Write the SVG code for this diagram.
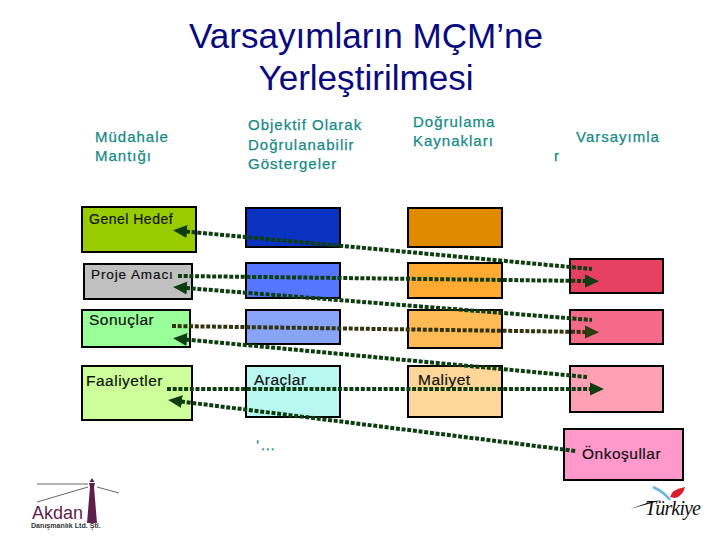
<svg xmlns="http://www.w3.org/2000/svg" width="720" height="540" viewBox="0 0 720 540">
<style>
text{font-family:"Liberation Sans",Arial,sans-serif;fill:#000}
.h{font-size:35.100px;text-anchor:middle;fill:#0a0a80}
.c{font-size:15px;letter-spacing:1px;fill:#158a86;stroke:#158a86;stroke-width:.25px}
.l{font-size:15.500px;letter-spacing:.5px;fill:#111;stroke:#111;stroke-width:.2px}
.b rect{stroke:#000;stroke-width:2}
.d{fill:none;stroke:#0f3d12;stroke-width:4;stroke-dasharray:4 1.700}
</style>
<defs>
<marker id="a" markerUnits="userSpaceOnUse" markerWidth="15" markerHeight="15" refX="1" refY="7.500" orient="auto-start-reverse"><path d="M0 1L14 7.500L0 14Z" fill="#0f3d12"/></marker>
<marker id="a2" markerUnits="userSpaceOnUse" markerWidth="15" markerHeight="15" refX="1" refY="7.500" orient="auto-start-reverse"><path d="M0 1L14 7.500L0 14Z" fill="#2e3a10"/></marker>
</defs>
<rect width="720" height="540" fill="#fff"/>
<g id="title"><text class="h" x="366" y="48">Varsayımların MÇM’ne</text><text class="h" x="366" y="90">Yerleştirilmesi</text></g>
<g id="headers">
<text class="c" x="95" y="142">Müdahale</text><text class="c" x="95" y="161">Mantığı</text>
<text class="c" x="248" y="130">Objektif Olarak</text><text class="c" x="248" y="150">Doğrulanabilir</text><text class="c" x="248" y="169">Göstergeler</text>
<text class="c" x="413" y="127">Doğrulama</text><text class="c" x="413" y="146">Kaynakları</text>
<text class="c" x="576" y="142">Varsayımla</text><text class="c" x="554" y="161">r</text>
</g>
<g id="n-genel" class="b"><rect x="82" y="207" width="114" height="45" fill="#99cc00"/><text class="l" x="89" y="224" style="font-size:14px">Genel Hedef</text></g>
<g id="n-proje" class="b"><rect x="84" y="264" width="108" height="35" fill="#c0c0c0"/><text class="l" x="91" y="279" style="font-size:13.500px;letter-spacing:.9px">Proje Amacı</text></g>
<g id="n-sonuc" class="b"><rect x="82" y="310" width="108" height="37" fill="#99ff99"/><text class="l" x="89" y="325">Sonuçlar</text></g>
<g id="n-faal" class="b"><rect x="82" y="366" width="110" height="54" fill="#ccff99"/><text class="l" x="86" y="386">Faaliyetler</text></g>
<g id="n-g1" class="b"><rect x="246" y="208" width="94" height="39" fill="#0a33c2"/></g>
<g id="n-g2" class="b"><rect x="246" y="263" width="94" height="35" fill="#5577ff"/></g>
<g id="n-g3" class="b"><rect x="246" y="310" width="94" height="34" fill="#88a4f8"/></g>
<g id="n-arac" class="b"><rect x="246" y="366" width="94" height="51" fill="#b8f8f0"/><text class="l" x="254" y="385">Araçlar</text></g>
<g id="n-k1" class="b"><rect x="408" y="208" width="94" height="39" fill="#e08a00"/></g>
<g id="n-k2" class="b"><rect x="408" y="263" width="94" height="35" fill="#ffaa33"/></g>
<g id="n-k3" class="b"><rect x="408" y="310" width="94" height="38" fill="#ffbb55"/></g>
<g id="n-mal" class="b"><rect x="408" y="366" width="94" height="51" fill="#ffd699"/><text class="l" x="418" y="385">Maliyet</text></g>
<g id="n-v1" class="b"><rect x="570" y="259" width="93" height="34" fill="#e64060"/></g>
<g id="n-v2" class="b"><rect x="570" y="310" width="93" height="34" fill="#f56a88"/></g>
<g id="n-v3" class="b"><rect x="570" y="366" width="93" height="46" fill="#ffa0b4"/></g>
<g id="n-on" class="b"><rect x="564" y="429" width="119" height="51" fill="#ff99cc"/><text class="l" x="582" y="459">Önkoşullar</text></g>
<text class="c" x="256" y="450">‘…</text>
<g id="connectors">
<path class="d" d="M186 231.500L592 269" marker-start="url(#a)"/>
<path class="d" d="M178 276L586 281" marker-end="url(#a)"/>
<path class="d" d="M186 288L592 320" marker-start="url(#a)"/>
<path class="d" d="M172 326L586 332" style="stroke:#33330f" marker-end="url(#a2)"/>
<path class="d" d="M186 339.500L587 377" marker-start="url(#a)"/>
<path class="d" d="M167 389L591 389" marker-end="url(#a)"/>
<path class="d" d="M181 401.500L576 451" marker-start="url(#a)"/>
</g>
<g id="akdan">
<path d="M37 484H88M37 502L88 487M97 487L119 493" stroke="#666" stroke-width="1" fill="none"/>
<path d="M87 523L90 487L89 483H95L94 487L97 523Z" fill="#5e1f4a"/>
<path d="M89.500 482L92 478L94.500 482Z" fill="#5e1f4a"/>
<text x="32" y="519" style="font-size:18px;fill:#5e1f4a">Akdan</text>
<text x="31" y="528" style="font-size:7.100px;font-weight:bold;fill:#333">Danışmanlık Ltd. Şti.</text>
</g>
<g id="turkiye">
<path d="M653 487Q664 492 670 500" stroke="#6bb6dc" stroke-width="2.500" fill="none"/>
<path d="M670 497Q672 489 685 487Q683 496 675 498Z" fill="#d8202a"/>
<path d="M630 509L650 502L662 500L648 504Z" fill="#000"/>
<text x="645" y="515" style="font-family:'Liberation Serif',serif;font-style:italic;font-size:20px;fill:#111" textLength="56">Türkiye</text>
</g>
</svg>
